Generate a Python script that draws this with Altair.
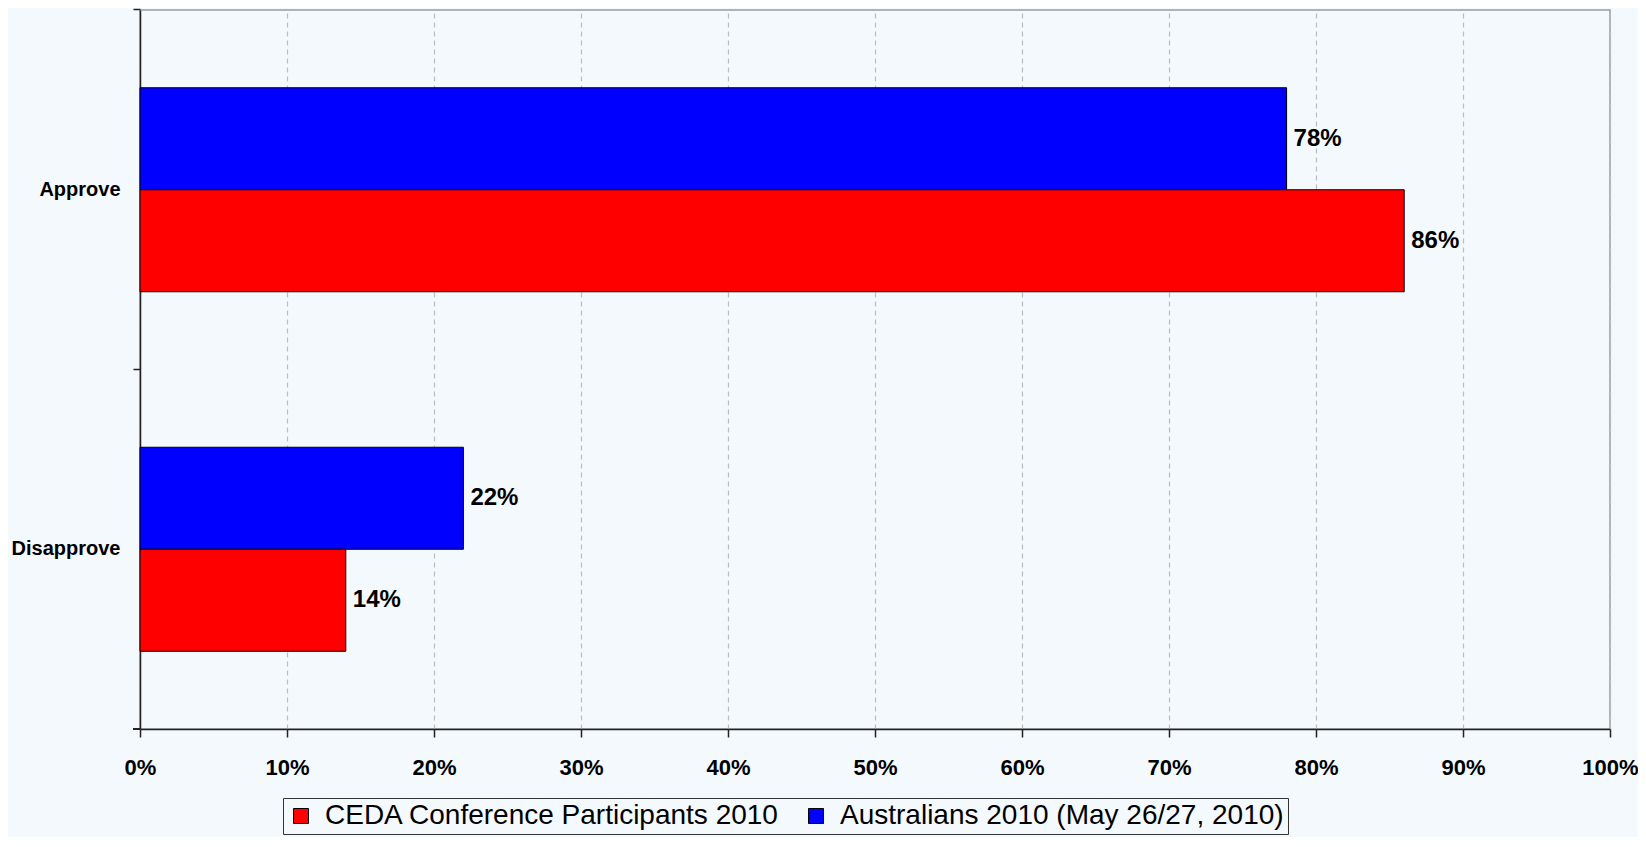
import altair as alt
import pandas as pd

groups = ["Approve", "Disapprove"]
series_ceda = "CEDA Conference Participants 2010"
series_aus = "Australians 2010 (May 26/27, 2010)"
ceda_values = [0.86, 0.14]
aus_values = [0.78, 0.22]
x_ticks = [0, 0.1, 0.2, 0.3, 0.4, 0.5, 0.6, 0.7, 0.8, 0.9, 1.0]

rows = []
for g, c, a in zip(groups, ceda_values, aus_values):
    rows.append({"group": g, "series": series_aus, "value": a})
    rows.append({"group": g, "series": series_ceda, "value": c})
df = pd.DataFrame(rows)

FONT = "Liberation Sans, Arial, sans-serif"
PAD_INNER = 0.4325

y_enc = alt.Y(
    "group:N",
    sort=groups,
    scale=alt.Scale(paddingInner=PAD_INNER, paddingOuter=PAD_INNER / 2),
    axis=alt.Axis(
        title=None,
        bandPosition=-(PAD_INNER / 2) / (1 - PAD_INNER),
        tickSize=7,
        tickWidth=1.5,
        tickColor="#222222",
        domainColor="#222222",
        domainWidth=1.5,
        labelFont=FONT,
        labelFontSize=20,
        labelFontWeight="bold",
        labelColor="#000000",
        labelPadding=13,
        grid=False,
    ),
)
yoff_enc = alt.YOffset("series:N", sort=[series_aus, series_ceda],
                       scale=alt.Scale(paddingInner=0, paddingOuter=0))

x_enc = alt.X(
    "value:Q",
    scale=alt.Scale(domain=[0, 1], nice=False),
    axis=alt.Axis(
        title=None,
        values=x_ticks,
        format=".0%",
        labelFlush=False,
        grid=True,
        gridColor="#BDBDBD",
        gridDash=[5, 4],
        gridWidth=1.2,
        tickSize=8,
        tickWidth=1.5,
        tickColor="#222222",
        domainColor="#222222",
        domainWidth=1.5,
        labelFont=FONT,
        labelFontSize=22,
        labelFontWeight="bold",
        labelColor="#000000",
        labelPadding=20,
    ),
)

color_enc = alt.Color(
    "series:N",
    scale=alt.Scale(domain=[series_ceda, series_aus], range=["#FF0000", "#0000FF"]),
    legend=alt.Legend(
        title=None,
        orient="none",
        legendX=143,
        legendY=788,
        direction="horizontal",
        symbolType="square",
        symbolSize=225,
        symbolStrokeColor="#000000",
        symbolStrokeWidth=1,
        labelFont=FONT,
        labelFontSize=28,
        labelColor="#000000",
        labelLimit=800,
        labelOffset=10,
        columnPadding=22,
        padding=4,
        strokeColor="#333333",
        fillColor="#F4F9FE",
    ),
)

base = alt.Chart(df)

bars = base.mark_bar(stroke="#000000", strokeWidth=1).encode(
    y=y_enc, yOffset=yoff_enc, x=x_enc, color=color_enc
)

labels = base.mark_text(
    align="left", baseline="middle", dx=7, font=FONT, fontSize=24,
    fontWeight="bold", color="#000000"
).encode(
    y=alt.Y("group:N", sort=groups),
    yOffset=alt.YOffset("series:N", sort=[series_aus, series_ceda]),
    x=alt.X("value:Q"),
    text=alt.Text("value:Q", format=".0%"),
)

bottom_tick = alt.Chart(df).mark_rule(color="#222222", strokeWidth=1.5).encode(
    x=alt.value(-7), x2=alt.value(0), y=alt.value(719)
)

chart = alt.layer(bars, labels, bottom_tick).properties(
    width=1470,
    height=719,
    autosize=alt.AutoSizeParams(type="none"),
    padding={"left": 132, "top": 2, "right": 28, "bottom": 108},
    background="#F4F9FE",
).configure_view(
    stroke="#9A9A9A", strokeWidth=1.5, fill="#F4F9FE"
)

chart.save("out.html", embed_options={"renderer": "svg", "actions": False})
